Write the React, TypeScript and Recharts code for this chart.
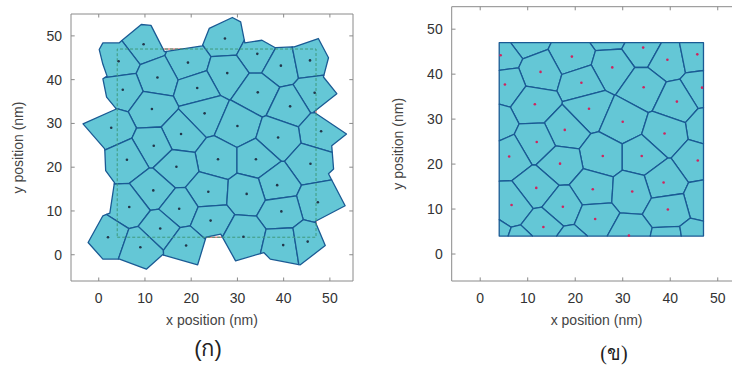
import React from 'react';
import { ScatterChart, Scatter, XAxis, YAxis, ReferenceArea, ReferenceLine } from 'recharts';

// seed (site) positions in nm
const seedX = [9.7, 27.3, 4.3, 19.3, 34.3, 39.4, 45.7, 12.7, 27.8, 21.3, 5.2, 34.4, 46.7, 11.5, 22.9, 41.4, 2.7, 30.0, 48.1, 17.8, 38.8, 11.9, 6.1, 25.8, 34.0, 45.8, 16.8, 38.6, 11.8, 23.7, 32.0, 47.4, 6.6, 17.4, 39.5, 24.2, 13.3, 2.0, 31.3, 9.0, 18.9, 39.9, 45.2];
const seedY = [48.1, 49.4, 44.2, 43.9, 45.9, 43.2, 44.4, 40.5, 41.5, 38.1, 37.7, 37.1, 37.0, 33.3, 32.3, 33.9, 29.0, 29.4, 28.2, 27.6, 26.8, 24.9, 21.7, 21.8, 21.8, 20.8, 20.1, 15.9, 14.7, 14.4, 13.9, 12.0, 10.9, 10.5, 9.9, 7.8, 6.0, 4.0, 4.1, 1.7, 2.1, 2.2, 3.0];

// outer edge of the unclipped tessellation (panel ก)
const outlineX = [0.9, 4.4, 9.2, 11.3, 14.2, 22.4, 23.9, 28.9, 30.7, 31.6, 35.3, 38.2, 42.3, 47.5, 49.7, 48.6, 51.5, 46.5, 53.6, 50.4, 50.8, 49.7, 53.3, 46.8, 49.0, 43.6, 37.1, 35.7, 29.6, 26.4, 23.2, 21.4, 13.8, 10.3, 4.5, 0.9, -2.3, 0.9, 2.4, 3.4, 1.5, 1.3, -3.4, 3.8, 1.7, 0.9, 1.8, 0.9, 0.1];
const outlineY = [48.4, 48.4, 52.6, 52.4, 46.4, 47.7, 51.7, 54.2, 53.2, 48.4, 49.0, 47.3, 47.5, 49.4, 45.0, 40.6, 36.8, 32.6, 27.6, 24.9, 19.6, 18.5, 11.2, 7.6, 2.1, -2.3, -1.0, 0.5, -1.4, 4.7, 4.0, -2.3, 0.0, -3.3, -1.0, -1.0, 2.8, 8.9, 9.5, 16.5, 19.2, 24.2, 29.9, 33.3, 36.0, 40.2, 40.8, 43.5, 46.9];

// simulation box
const boxLo = 4;
const boxHi = 47;

const ticks = [0, 10, 20, 30, 40, 50];
const domain = [-6, 55];

const CELL_FILL = '#64c7d6';
const EDGE = '#1a5a94';
const FONT = '"Liberation Sans", Arial, sans-serif';

type Pt = [number, number];

// keep the side of the bisector of seeds i and j that is nearer to i
function clipHalf(poly: Pt[], i: number, j: number): Pt[] {
  const mx = (seedX[i] + seedX[j]) / 2;
  const my = (seedY[i] + seedY[j]) / 2;
  const nx = seedX[j] - seedX[i];
  const ny = seedY[j] - seedY[i];
  const side = (p: Pt) => (p[0] - mx) * nx + (p[1] - my) * ny;
  const out: Pt[] = [];
  for (let k = 0; k < poly.length; k++) {
    const cur = poly[k];
    const prev = poly[(k + poly.length - 1) % poly.length];
    const fc = side(cur);
    const fp = side(prev);
    if ((fc <= 0) !== (fp <= 0)) {
      const t = fp / (fp - fc);
      out.push([prev[0] + t * (cur[0] - prev[0]), prev[1] + t * (cur[1] - prev[1])]);
    }
    if (fc <= 0) out.push(cur);
  }
  return out;
}

function buildCells(region: Pt[]) {
  return seedX.map((_, i) => {
    let poly = region;
    for (let j = 0; j < seedX.length; j++) {
      if (j !== i && poly.length) poly = clipHalf(poly, i, j);
    }
    return poly.map(([x, y]) => ({ x, y }));
  });
}

const outline: Pt[] = outlineX.map((x, i) => [x, outlineY[i]]);
const box: Pt[] = [[boxLo, boxLo], [boxHi, boxLo], [boxHi, boxHi], [boxLo, boxHi]];
const boxPts = box.map(([x, y]) => ({ x, y }));

const cellsA = buildCells(outline);
const cellsB = buildCells(box);

const seedsAll = seedX.map((x, i) => ({ x, y: seedY[i] }));
const seedsInBox = seedsAll.filter((p) => p.x >= boxLo && p.x <= boxHi && p.y >= boxLo && p.y <= boxHi);

const toStr = (pts: { x: number; y: number }[]) => pts.map((p) => `${p.x},${p.y}`).join(' ');

const CellShape = (props: any) => {
  const pts = props.points || [];
  if (pts.length < 3) return <g />;
  return <polygon points={toStr(pts)} fill={CELL_FILL} stroke={EDGE} strokeWidth={1.3} strokeLinejoin="round" />;
};

const BoxRed = (props: any) => (
  <polygon points={toStr(props.points || [])} fill="none" stroke="#d9544f" strokeWidth={1} />
);
const BoxGreen = (props: any) => (
  <polygon points={toStr(props.points || [])} fill="none" stroke="#3f9a7c" strokeWidth={1} strokeDasharray="3 2" />
);

const hidden = () => <g />;

function Panel({ left, width, mLeft, mRight, mTop, labelOffset, cells, dots, dotColor, showBox }: any) {
  const tl = 0.8;
  return (
    <div style={{ position: 'absolute', left, top: 0 }}>
      <ScatterChart width={width} height={367} margin={{ top: mTop, right: mRight, bottom: 56, left: mLeft }}>
        <XAxis
          type="number"
          dataKey="x"
          domain={domain}
          ticks={ticks}
          allowDataOverflow
          axisLine={false}
          tickLine={false}
          tickMargin={6}
          height={30}
          tick={{ fill: '#333', fontSize: 14, fontFamily: FONT }}
          label={{ value: 'x position (nm)', position: 'bottom', offset: 4, fill: '#444', fontSize: 14, fontFamily: FONT }}
        />
        <YAxis
          type="number"
          dataKey="y"
          domain={domain}
          ticks={ticks}
          allowDataOverflow
          axisLine={false}
          tickLine={false}
          tickMargin={3}
          width={60}
          tick={{ fill: '#333', fontSize: 14, fontFamily: FONT }}
          label={{ value: 'y position (nm)', angle: -90, position: 'insideLeft', offset: labelOffset, fill: '#444', fontSize: 14, fontFamily: FONT, style: { textAnchor: 'middle' } }}
        />
        <ReferenceArea x1={domain[0]} x2={domain[1]} y1={domain[0]} y2={domain[1]} fill="none" stroke="#8a8a8a" strokeWidth={1} fillOpacity={0} />
        {ticks.map((t) => (
          <ReferenceLine key={'b' + t} segment={[{ x: t, y: domain[0] }, { x: t, y: domain[0] + tl }]} stroke="#8a8a8a" />
        ))}
        {ticks.map((t) => (
          <ReferenceLine key={'t' + t} segment={[{ x: t, y: domain[1] }, { x: t, y: domain[1] - tl }]} stroke="#8a8a8a" />
        ))}
        {ticks.map((t) => (
          <ReferenceLine key={'l' + t} segment={[{ x: domain[0], y: t }, { x: domain[0] + tl, y: t }]} stroke="#8a8a8a" />
        ))}
        {ticks.map((t) => (
          <ReferenceLine key={'r' + t} segment={[{ x: domain[1], y: t }, { x: domain[1] - tl, y: t }]} stroke="#8a8a8a" />
        ))}
        {showBox && <Scatter data={boxPts} line={BoxRed} shape={hidden} isAnimationActive={false} />}
        {cells.map((c: any, i: number) =>
          c.length >= 3 ? <Scatter key={i} data={c} line={CellShape} shape={hidden} isAnimationActive={false} /> : null
        )}
        {showBox && <Scatter data={boxPts} line={BoxGreen} shape={hidden} isAnimationActive={false} />}
        <Scatter
          data={dots}
          isAnimationActive={false}
          shape={(p: any) => <circle cx={p.cx} cy={p.cy} r={1.3} fill={dotColor} />}
        />
      </ScatterChart>
    </div>
  );
}

export default function App() {
  return (
    <div style={{ position: 'absolute', left: 0, top: 0, width: 732, height: 367, overflow: 'hidden', background: '#fff', fontFamily: FONT }}>
      <Panel left={0} width={366} mLeft={11} mRight={13} mTop={14} labelOffset={7} cells={cellsA} dots={seedsAll} dotColor="#23364a" showBox />
      <Panel left={366} width={380} mLeft={25.7} mRight={4.5} mTop={6.7} labelOffset={6} cells={cellsB} dots={seedsInBox} dotColor="#d0245e" showBox={false} />
      <div style={{ position: 'absolute', left: 208, top: 349, transform: 'translate(-50%, -50%)', fontSize: 22, lineHeight: 1, color: '#222' }}>(ก)</div>
      <div style={{ position: 'absolute', left: 614, top: 353, transform: 'translate(-50%, -50%)', fontSize: 20, lineHeight: 1, color: '#222', fontFamily: 'serif' }}>(ข)</div>
    </div>
  );
}
